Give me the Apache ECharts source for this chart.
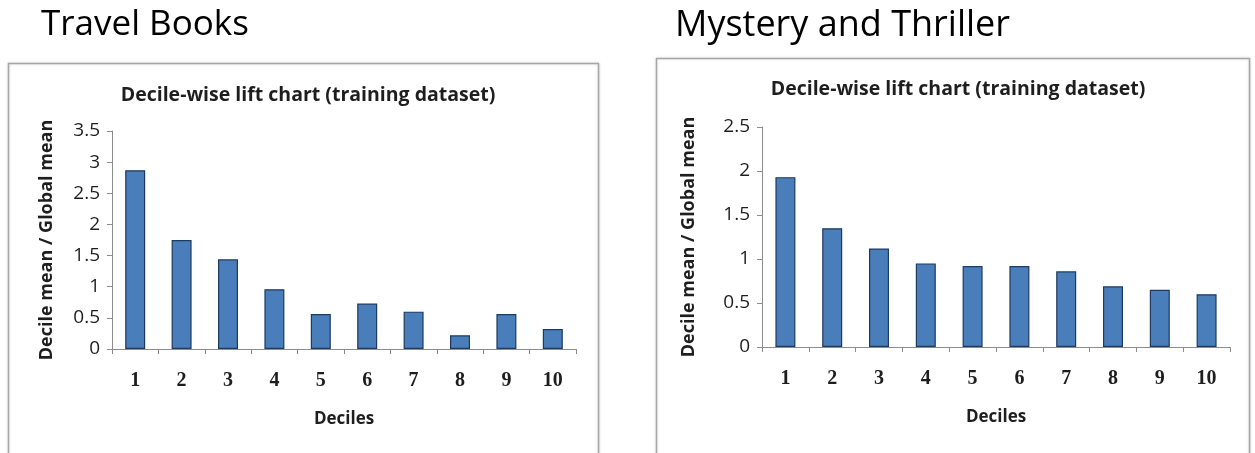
<!DOCTYPE html>
<html>
<head>
<meta charset="utf-8">
<script src="https://cdn.jsdelivr.net/npm/echarts@6/dist/echarts.min.js"></script>
<style>
  html, body { margin: 0; padding: 0; background: #ffffff; }
  #chart { width: 1255px; height: 453px; }
</style>
</head>
<body>
<div id="chart"></div>
<script>
// Decile labels shared by both panels
const deciles = ['1', '2', '3', '4', '5', '6', '7', '8', '9', '10'];

// Decile mean / global mean, training dataset
const travelLift = [2.87, 1.75, 1.44, 0.96, 0.56, 0.73, 0.60, 0.22, 0.56, 0.32];
const mysteryLift = [1.93, 1.35, 1.12, 0.95, 0.92, 0.92, 0.86, 0.69, 0.65, 0.60];

// Panel headings and axis texts
const panelHeadings = ['Travel Books', 'Mystery and Thriller'];
const chartTitle = 'Decile-wise lift chart (training dataset)';
const xName = 'Deciles';
const yName = 'Decile mean / Global mean';

// Y-axis upper limits
const yMaxima = [3.5, 2.5];

const chart = echarts.init(document.getElementById('chart'), null, { renderer: 'canvas' });

const sansFont = '"Open Sans", "Noto Sans", sans-serif';
const serifFont = '"Liberation Serif", "DejaVu Serif", serif';
const axisGrey = '#8c8c8c';
const textColor = '#1e1e1e';

const grids = [
  { left: 112, right: 679, top: 131, bottom: 104 },
  { left: 762, right: 25, top: 127, bottom: 106 }
];

function xAxisFor(i) {
  return {
    type: 'category',
    gridIndex: i,
    data: deciles,
    boundaryGap: true,
    name: xName,
    nameLocation: 'middle',
    nameGap: 62,
    nameTextStyle: { fontFamily: sansFont, fontWeight: 'bold', fontSize: 17, color: textColor },
    axisLine: { lineStyle: { color: axisGrey, width: 1 } },
    axisTick: { show: true, alignWithLabel: false, length: 5, inside: false, lineStyle: { color: axisGrey } },
    axisLabel: { margin: 22, fontFamily: serifFont, fontWeight: 'bold', fontSize: 20, color: textColor },
    splitLine: { show: false }
  };
}

function yAxisFor(i, gap) {
  return {
    type: 'value',
    gridIndex: i,
    min: 0,
    max: yMaxima[i],
    interval: 0.5,
    name: yName,
    nameLocation: 'middle',
    nameRotate: 90,
    nameGap: gap,
    nameTextStyle: { fontFamily: sansFont, fontWeight: 'bold', fontSize: 18, color: textColor },
    axisLine: { show: true, lineStyle: { color: axisGrey, width: 1 } },
    axisTick: { show: true, length: 5, lineStyle: { color: axisGrey } },
    axisLabel: { margin: 12, fontFamily: sansFont, fontSize: 19, color: textColor },
    splitLine: { show: false }
  };
}

function barSeries(i, values) {
  return {
    type: 'bar',
    xAxisIndex: i,
    yAxisIndex: i,
    data: values,
    barWidth: 20,
    itemStyle: { color: '#4a7ebb', borderColor: '#1d3a60', borderWidth: 1.2 },
    silent: true,
    animation: false
  };
}

chart.setOption({
  animation: false,
  backgroundColor: '#ffffff',
  graphic: [
    // Chart frames
    { type: 'rect', shape: { x: 8.5, y: 63.5, width: 590, height: 400 },
      style: { fill: '#ffffff', stroke: '#a6a6a6', lineWidth: 1.5, shadowBlur: 3, shadowColor: 'rgba(0,0,0,0.15)' }, z: -10 },
    { type: 'rect', shape: { x: 656.5, y: 58.5, width: 593, height: 405 },
      style: { fill: '#ffffff', stroke: '#a6a6a6', lineWidth: 1.5, shadowBlur: 3, shadowColor: 'rgba(0,0,0,0.15)' }, z: -10 }
  ],
  title: [
    { text: panelHeadings[0], left: 36, top: 3, textStyle: { fontFamily: sansFont, fontWeight: 'normal', fontSize: 35, color: '#000' } },
    { text: panelHeadings[1], left: 670, top: 3, textStyle: { fontFamily: sansFont, fontWeight: 'normal', fontSize: 36, color: '#000' } },
    { text: chartTitle, left: 303, textAlign: 'center', top: 80, textStyle: { fontFamily: sansFont, fontWeight: 'bold', fontSize: 19.5, color: textColor } },
    { text: chartTitle, left: 953, textAlign: 'center', top: 74, textStyle: { fontFamily: sansFont, fontWeight: 'bold', fontSize: 19.5, color: textColor } }
  ],
  grid: grids,
  xAxis: [xAxisFor(0), xAxisFor(1)],
  yAxis: [yAxisFor(0, 56), yAxisFor(1, 64)],
  series: [barSeries(0, travelLift), barSeries(1, mysteryLift)]
});
</script>
</body>
</html>
